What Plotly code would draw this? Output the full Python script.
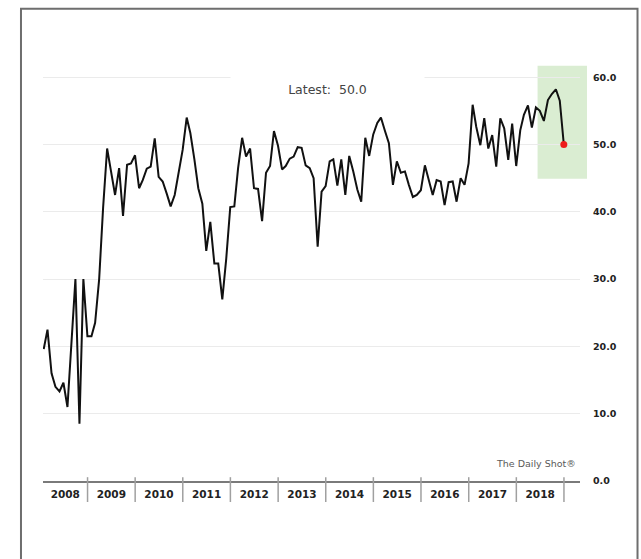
import pandas as pd
import plotly.graph_objects as go

# Monthly index readings, one list per calendar year (Jan..Dec)
v2008 = [19.6, 22.5, 16.0, 14.0, 13.3, 14.6, 11.0, 21.0, 30.0, 8.5, 30.0, 21.5]
v2009 = [21.5, 23.5, 30.0, 40.5, 49.4, 46.0, 42.5, 46.5, 39.4, 47.0, 47.2, 48.4]
v2010 = [43.5, 44.7, 46.4, 46.7, 50.9, 45.2, 44.5, 42.7, 40.8, 42.5, 45.7, 49.2]
v2011 = [54.0, 51.7, 47.8, 43.5, 41.2, 34.2, 38.5, 32.3, 32.3, 27.0, 33.0, 40.7]
v2012 = [40.8, 46.5, 51.0, 48.2, 49.4, 43.5, 43.4, 38.6, 45.8, 46.8, 52.0, 49.8]
v2013 = [46.3, 46.8, 47.9, 48.2, 49.6, 49.5, 46.9, 46.5, 45.0, 34.8, 43.0, 43.8]
v2014 = [47.5, 47.8, 43.9, 47.8, 42.5, 48.3, 46.0, 43.3, 41.5, 51.0, 48.3, 51.5]
v2015 = [53.2, 54.0, 52.0, 50.2, 44.0, 47.5, 45.8, 46.0, 44.0, 42.2, 42.5, 43.2]
v2016 = [46.9, 44.8, 42.5, 44.7, 44.5, 41.0, 44.4, 44.5, 41.5, 45.0, 44.0, 47.2]
v2017 = [55.9, 52.6, 49.9, 53.9, 49.4, 51.4, 46.7, 53.9, 52.4, 47.7, 53.1, 46.8]
v2018 = [52.1, 54.4, 55.8, 52.5, 55.5, 55.0, 53.5, 56.6, 57.5, 58.2, 56.5, 50.0]

years = [2008, 2009, 2010, 2011, 2012, 2013, 2014, 2015, 2016, 2017, 2018]
values = (v2008 + v2009 + v2010 + v2011 + v2012 + v2013 + v2014 + v2015
          + v2016 + v2017 + v2018)
latest_value = values[-1]

# month-end observation dates
dates = pd.date_range("2008-01-01", periods=len(values), freq="MS") + pd.offsets.MonthEnd(0)

x_start = pd.Timestamp("2008-01-25 12:00")
x_end = pd.Timestamp("2019-05-04")
y_top = 63

# year labels sit in the middle of each calendar-year band
tick_pos, tick_txt = [], []
for yr in years:
    a = max(pd.Timestamp(f"{yr}-01-01"), x_start)
    b = pd.Timestamp(f"{yr + 1}-01-01")
    tick_pos.append(a + (b - a) / 2)
    tick_txt.append(str(yr))

fig = go.Figure()
fig.add_trace(go.Scatter(
    x=dates, y=values, mode="lines",
    line=dict(color="#111111", width=2),
    hoverinfo="skip", showlegend=False,
))
fig.add_trace(go.Scatter(
    x=[dates[-1]], y=[latest_value], mode="markers",
    marker=dict(color="#ee1c1c", size=7),
    hoverinfo="skip", showlegend=False,
))

shapes = []
# highlighted recent window
shapes.append(dict(
    type="rect", xref="paper", yref="y",
    x0=0.921, x1=1.013, y0=44.9, y1=61.7,
    fillcolor="rgb(218,237,210)", line=dict(width=0), layer="below",
))
# year separators below the axis
for yr in years[1:] + [2019]:
    d = pd.Timestamp(f"{yr}-01-01")
    shapes.append(dict(
        type="line", xref="x", yref="paper",
        x0=d, x1=d, y0=-0.0495, y1=0.009,
        line=dict(color="#a0a0a0", width=1.5),
    ))
# outer frame (open at the bottom)
shapes.append(dict(
    type="path", xref="paper", yref="paper",
    path="M -0.041,-0.25 L -0.041,1.1137 L 1.1071,1.1137 L 1.1071,-0.25",
    line=dict(color="#6e6e6e", width=2),
))

annotations = [
    dict(
        xref="paper", yref="paper", x=0.5296, y=0.9245,
        xanchor="center", yanchor="middle",
        text="Latest:\u00a0 " + f"{latest_value:.1f}",
        showarrow=False, bgcolor="white", width=191, height=40,
        font=dict(family="DejaVu Sans", size=12.5, color="#444444"),
    ),
    dict(
        xref="paper", yref="paper", x=0.9968, y=0.0401,
        xanchor="right", yanchor="middle",
        text="The Daily Shot®", showarrow=False,
        font=dict(family="DejaVu Sans", size=9.5, color="#5a5a5a"),
    ),
]

fig.update_layout(
    width=641, height=559,
    margin=dict(l=43, r=61, t=57, b=78, pad=0),
    paper_bgcolor="white", plot_bgcolor="white",
    font=dict(family="DejaVu Sans", color="#222222"),
    shapes=shapes, annotations=annotations,
    xaxis=dict(
        type="date", range=[x_start, x_end],
        showgrid=False, zeroline=False,
        showline=True, linecolor="#7a7a7a", linewidth=1.5,
        tickmode="array", tickvals=tick_pos, ticktext=tick_txt,
        ticks="", ticklabelstandoff=3,
        tickfont=dict(family="DejaVu Sans", size=10.5, color="#222222", weight="bold"),
    ),
    yaxis=dict(
        range=[0, y_top], side="right",
        tickmode="linear", tick0=0, dtick=10, tickformat=".1f",
        showgrid=True, gridcolor="#ebebeb", gridwidth=1,
        zeroline=False, showline=False, ticks="",
        ticklabelstandoff=12,
        tickfont=dict(family="DejaVu Sans", size=9.5, color="#222222", weight="bold"),
    ),
)

fig.write_html("out.html")
